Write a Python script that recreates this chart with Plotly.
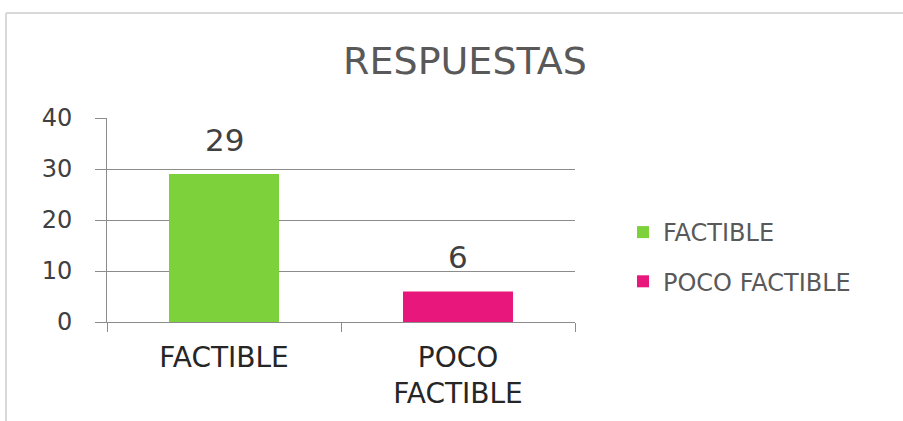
import plotly.graph_objects as go

categories = ["FACTIBLE", "POCO<br>FACTIBLE"]
series_names = ["FACTIBLE", "POCO FACTIBLE"]
values = [29, 6]
colors = ["#7DD13B", "#E8177B"]
y_ticks = [0, 10, 20, 30, 40]

W, H = 903, 421
L, R, T, B = 107, 328, 118, 99
pw, ph = W - L - R, H - T - B
FONT = "DejaVu Sans, Verdana, sans-serif"

fig = go.Figure()
for i, (cat, name, v, c) in enumerate(zip(categories, series_names, values, colors)):
    fig.add_trace(go.Bar(
        x=[cat], y=[v], name=name, marker=dict(color=c, line=dict(width=0)),
        width=0.47, legendgroup=f"g{i}", hoverinfo="x+y",
    ))
    fig.add_annotation(
        x=cat, y=v, text=str(v), showarrow=False, yanchor="bottom", yshift=14,
        font=dict(family=FONT, size=31, color="#404040"),
    )

fig.update_layout(
    width=W, height=H,
    margin=dict(l=L, r=R, t=T, b=B, autoexpand=False),
    paper_bgcolor="white", plot_bgcolor="white",
    barmode="overlay",
    title=dict(text="RESPUESTAS", x=465 / W, xref="container", xanchor="center",
               y=1 - 61 / H, yref="container", yanchor="middle",
               font=dict(family=FONT, size=38, color="#595959")),
    legend=dict(x=(623 - L) / pw, xanchor="left", y=(H - B - 257) / ph, yanchor="middle",
                font=dict(family=FONT, size=24, color="#595959"),
                tracegroupgap=15, itemwidth=30, bgcolor="rgba(0,0,0,0)"),
    showlegend=True,
)
fig.update_yaxes(
    range=[0, 40], tickvals=y_ticks, showgrid=True, gridcolor="#8C8C8C", gridwidth=1,
    showline=True, linecolor="#8C8C8C", linewidth=1,
    ticks="outside", ticklen=11, tickcolor="#8C8C8C", ticklabelstandoff=18,
    tickfont=dict(family=FONT, size=24, color="#404040"),
    zeroline=False, fixedrange=True, automargin=False,
)
fig.update_xaxes(
    showline=True, linecolor="#8C8C8C", linewidth=1,
    ticks="outside", ticklen=9, tickcolor="#8C8C8C", tickson="boundaries",
    ticklabelstandoff=10,
    tickfont=dict(family=FONT, size=28, color="#262626"),
    showgrid=False, fixedrange=True, automargin=False,
)

# outer chart frame (top and left edges)
x0 = (6 - L) / pw
y1 = (H - B - 13) / ph
fig.add_shape(type="line", xref="paper", yref="paper", x0=x0, x1=(W - L) / pw, y0=y1, y1=y1,
              line=dict(color="#D9D9D9", width=2))
fig.add_shape(type="line", xref="paper", yref="paper", x0=x0, x1=x0, y0=-B / ph, y1=y1,
              line=dict(color="#D9D9D9", width=2))

fig.write_html("out.html", config={"displayModeBar": False},
               post_script="document.body.style.margin='0';")
